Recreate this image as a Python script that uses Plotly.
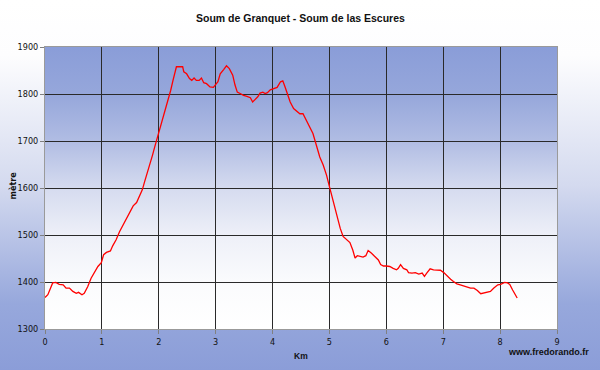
import base64
import plotly.graph_objects as go

# ---- data ----
km = [0.0, 0.05, 0.135, 0.19, 0.25, 0.32, 0.37, 0.43, 0.49, 0.55, 0.59, 0.65, 0.69, 0.75, 0.81, 0.87, 0.93, 0.99,
      1.03, 1.08, 1.15, 1.19, 1.25, 1.31, 1.37, 1.44, 1.5, 1.55, 1.61, 1.65, 1.71, 1.75, 1.79, 1.84, 1.89, 1.93, 1.97,
      2.01, 2.05, 2.09, 2.14, 2.18, 2.21, 2.25, 2.28, 2.31, 2.37, 2.42, 2.44, 2.49, 2.54, 2.58, 2.62, 2.66, 2.71, 2.75,
      2.79, 2.84, 2.9, 2.96, 3.04, 3.08, 3.14, 3.19, 3.24, 3.3, 3.34, 3.38, 3.43, 3.49, 3.55, 3.61, 3.65, 3.69, 3.74,
      3.78, 3.83, 3.87, 3.91, 3.96, 4.02, 4.08, 4.14, 4.18, 4.22, 4.26, 4.31, 4.37, 4.43, 4.48, 4.535, 4.594, 4.65,
      4.71, 4.77, 4.83, 4.89, 4.95, 5.0, 5.05, 5.11, 5.15, 5.19, 5.24, 5.3, 5.36, 5.41, 5.45, 5.49, 5.54, 5.59, 5.64,
      5.68, 5.74, 5.8, 5.86, 5.9, 5.95, 6.0, 6.06, 6.12, 6.18, 6.21, 6.25, 6.3, 6.36, 6.39, 6.45, 6.51, 6.57, 6.63,
      6.67, 6.71, 6.77, 6.83, 6.89, 6.95, 7.01, 7.07, 7.13, 7.18, 7.24, 7.3, 7.36, 7.42, 7.48, 7.54, 7.6, 7.66, 7.71,
      7.77, 7.83, 7.89, 7.96, 8.01, 8.08, 8.13, 8.17, 8.22, 8.26, 8.3]
altitude = [1367, 1373, 1398, 1399, 1395, 1394, 1387, 1387, 1380, 1376, 1378, 1373, 1376, 1390, 1408, 1421, 1433, 1441,
            1458, 1463, 1466, 1477, 1490, 1507, 1521, 1536, 1550, 1562, 1569, 1580, 1596, 1613, 1631, 1652, 1670, 1688,
            1705, 1724, 1741, 1755, 1776, 1797, 1808, 1829, 1847, 1858, 1858, 1858, 1847, 1843, 1833, 1829, 1834, 1829,
            1829, 1834, 1824, 1822, 1815, 1814, 1826, 1843, 1852, 1860, 1854, 1840, 1819, 1804, 1801, 1797, 1795, 1792,
            1783, 1787, 1794, 1802, 1804, 1801, 1803, 1809, 1812, 1814, 1826, 1828, 1815, 1801, 1783, 1769, 1762, 1758,
            1758, 1744, 1729, 1716, 1691, 1666, 1649, 1627, 1603, 1578, 1553, 1532, 1514, 1497, 1490, 1484, 1468, 1451,
            1456, 1454, 1453, 1456, 1467, 1461, 1454, 1447, 1437, 1434, 1434, 1433, 1429, 1426, 1429, 1437, 1429, 1426,
            1420, 1419, 1420, 1417, 1419, 1412, 1419, 1428, 1426, 1426, 1425, 1420, 1412, 1406, 1401, 1396, 1394, 1392,
            1390, 1387, 1387, 1382, 1375, 1376, 1378, 1380, 1387, 1394, 1395, 1399, 1398, 1395, 1383, 1375, 1366]
x_ticks = [0, 1, 2, 3, 4, 5, 6, 7, 8, 9]
y_ticks = [1300, 1400, 1500, 1600, 1700, 1800, 1900]

title = "Soum de Granquet - Soum de las Escures"
x_title = "Km"
y_title = "mètre"
credit = "www.fredorando.fr"

# ---- layout geometry ----
W, H = 600, 370
L, R, T, B = 45, 43, 47, 41
PW, PH = W - L - R, H - T - B
FONT = "Liberation Sans, Arial, sans-serif"
NARROW = "Liberation Sans Narrow, DejaVu Sans Condensed, Liberation Sans, sans-serif"


def svg_uri(stops):
    st = "".join(f'<stop offset="{o}" stop-color="{c}"/>' for o, c in stops)
    svg = ('<svg xmlns="http://www.w3.org/2000/svg" width="100" height="100" preserveAspectRatio="none" '
           'viewBox="0 0 100 100"><defs><linearGradient id="g" x1="0" y1="0" x2="0" y2="1">'
           f'{st}</linearGradient></defs><rect width="100" height="100" fill="url(#g)"/></svg>')
    return "data:image/svg+xml;base64," + base64.b64encode(svg.encode()).decode()


paper_grad = svg_uri([(0, "#ffffff"), (0.15, "#fdfdfe"), (0.5, "#d4daef"), (0.82, "#97a8dc"), (1, "#8b9dd8")])
plot_grad = svg_uri([(0, "#8a9dd8"), (0.17, "#96a7db"), (0.33, "#b0bce3"), (0.5, "#d5dbef"),
                     (0.67, "#eef0f8"), (0.83, "#fafbfd"), (1, "#ffffff")])

fig = go.Figure()
fig.add_trace(go.Scatter(x=km, y=altitude, mode="lines",
                         line=dict(color="#ff0000", width=1.3), hoverinfo="skip"))

axis_common = dict(showline=True, linecolor="#9a9a9a", linewidth=1, mirror=True,
                   ticks="outside", ticklen=4, tickcolor="#808080",
                   showgrid=True, gridcolor="#2a2a2a", gridwidth=1, zeroline=False,
                   tickfont=dict(family=NARROW, size=9, color="#111111"))

fig.update_layout(
    width=W, height=H,
    margin=dict(l=L, r=R, t=T, b=B, pad=0),
    paper_bgcolor="#ffffff",
    plot_bgcolor="rgba(0,0,0,0)",
    showlegend=False,
    xaxis=dict(range=[0, 9], tickvals=x_ticks, ticktext=[str(v) for v in x_ticks], **axis_common),
    yaxis=dict(range=[1300, 1900], tickvals=y_ticks, ticktext=[str(v) for v in y_ticks], **axis_common),
    images=[
        dict(source=paper_grad, xref="paper", yref="paper", x=-L / PW, y=(PH + T) / PH,
             sizex=W / PW, sizey=H / PH, xanchor="left", yanchor="top", sizing="stretch", layer="below"),
        dict(source=plot_grad, xref="x", yref="y", x=0, y=1900, sizex=9, sizey=600,
             xanchor="left", yanchor="top", sizing="stretch", layer="below"),
    ],
    annotations=[
        dict(text=f"<b>{title}</b>", xref="paper", yref="paper", x=(300.5 - L) / PW, y=(H - B - 18) / PH,
             showarrow=False, xanchor="center", yanchor="middle", font=dict(family=FONT, size=10.5, color="#111")),
        dict(text=f"<b>{x_title}</b>", xref="paper", yref="paper", x=(300.5 - L) / PW, y=(H - B - 355.5) / PH,
             showarrow=False, xanchor="center", yanchor="middle", font=dict(family=FONT, size=8.5, color="#111")),
        dict(text=f"<b>{y_title}</b>", xref="paper", yref="paper", x=(12.5 - L) / PW, y=(H - B - 186) / PH,
             showarrow=False, xanchor="center", yanchor="middle", textangle=-90,
             font=dict(family=NARROW, size=9, color="#111")),
        dict(text=f"<b>{credit}</b>", xref="paper", yref="paper", x=(591 - L) / PW, y=(H - B - 352) / PH,
             showarrow=False, xanchor="right", yanchor="middle", font=dict(family=FONT, size=9, color="#111")),
    ],
)

fig.write_html("out.html", config={"displayModeBar": False},
               post_script="document.body.style.margin='0';document.body.style.padding='0';")
